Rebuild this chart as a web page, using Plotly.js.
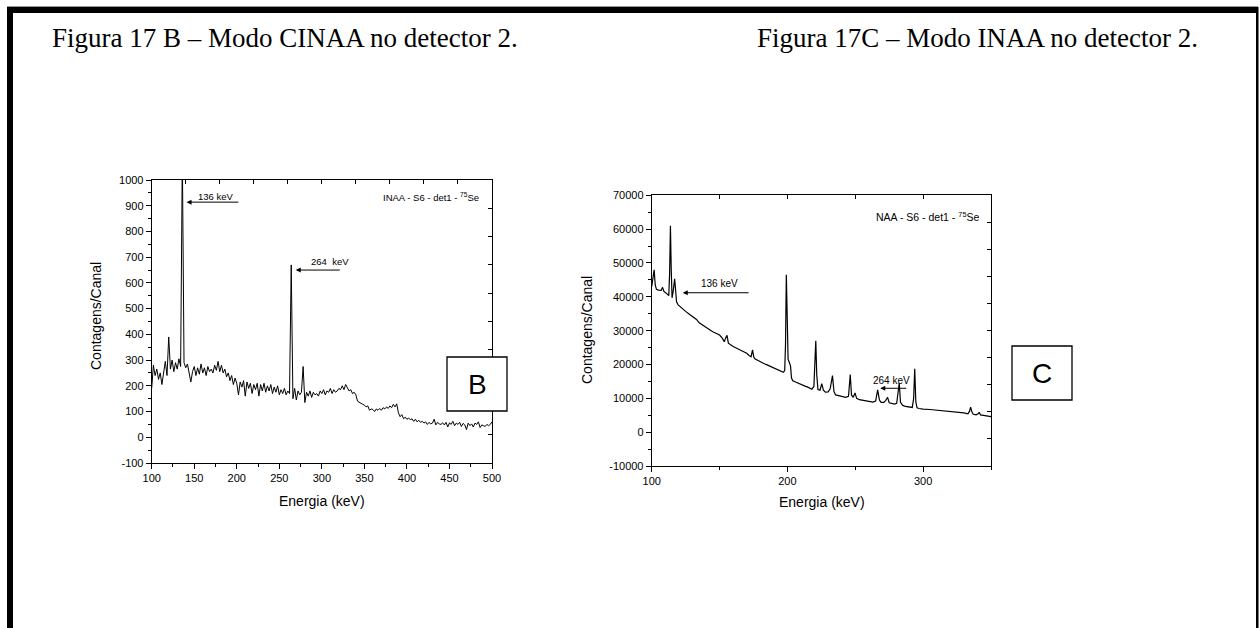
<!DOCTYPE html>
<html>
<head>
<meta charset="utf-8">
<script src="https://cdn.plot.ly/plotly-3.0.1.min.js"></script>
<style>html,body{margin:0;padding:0;background:#fff;}#chart{width:1260px;height:628px;}</style>
</head>
<body>
<div id="chart"></div>
<script>
// ---------- Panel B data (CINAA, 100-500 keV, 2 keV channels) ----------
const startEnergyB = 100;
const stepEnergyB = 2;
const countsB = [
 190,280,240,265,225,250,205,255,295,240,
 390,265,300,255,290,265,305,275,1100,290,
 270,285,245,215,255,275,240,270,245,285,
 250,270,240,275,255,265,250,280,260,295,
 255,280,250,265,235,250,220,240,205,230,
 210,165,215,195,220,160,215,190,210,170,
 205,185,210,160,205,180,210,175,200,180,
 205,170,195,175,200,165,185,170,190,165,
 180,170,670,150,190,145,180,165,175,275,
 135,175,160,180,155,175,165,170,160,180,
 170,185,165,180,175,190,170,185,175,180,
 190,185,200,185,205,190,180,185,170,175,
 165,140,135,130,128,125,118,122,105,110,
 108,100,110,105,112,105,115,110,118,112,
 122,115,128,118,130,95,80,88,72,78,
 70,75,68,72,62,70,60,66,58,62,
 55,60,50,58,52,55,70,48,58,52,
 50,56,48,58,40,56,50,62,45,55,
 50,58,42,54,48,30,55,45,52,40,
 55,50,60,38,48,45,42,50,45,50,
 60
];

// ---------- Panel C data (INAA, 100-350 keV) ----------
const energyC = [
 100,101,101.8,102.6,103.5,105,107,108,109,110,111.5,112.6,113.2,113.8,114.4,115,115.8,116.9,117.6,118.3,
 119.5,122,125,128,130,133,135,138,140,143,145,148,150,152,153.5,154.3,155.5,156.5,158,160,
 163,165,168,170,172,173.2,174.3,175.2,176,178,180,183,185,188,190,193,195,197,198,198.6,
 199.2,199.8,200.5,201.5,202.3,203,204,206,210,213,215,218,219.5,220.3,220.9,221.6,222.5,224,225.3,226.5,
 228,230,231.5,233.2,234.3,235.5,238,240,243,245,246.3,247.2,248.5,249.8,251,253,255,258,260,263,
 265,266.5,267.8,269,271,272.5,273.8,275,277,279,280.5,281.5,282.4,283.3,285,287,290,292,293,293.8,
 294.6,295.5,297,300,305,310,315,320,325,330,333,334.2,335,335.9,337,339,340.5,341.3,342.3,345,
 348,350
];
const countsC = [
 43000,46000,48000,43500,42200,42000,41900,42800,41600,41300,40700,40400,47000,61000,48000,39700,41500,45300,42000,38500,
 37600,36600,35700,34800,34300,33300,32300,31600,31000,30200,29700,29100,28700,27800,26700,27700,28600,26300,25800,25300,
 24700,24300,23600,23300,22600,22300,24300,22200,21700,21200,20700,20200,19900,19400,19100,18600,18200,17700,18200,26000,
 46500,30000,21500,20500,19500,16000,15200,14800,14000,13600,13300,12700,13500,19000,27000,17000,12600,12400,14300,12400,
 11800,11900,12800,16700,12000,11000,10700,10500,10300,10600,17000,11000,10300,11600,10000,9600,9400,9200,9100,8900,
 9200,12500,9500,8800,8800,9400,10300,8700,8500,8300,8500,11000,14500,8800,7900,7600,7400,7300,10000,18700,
 9000,7200,7000,6800,6700,6500,6400,6200,6000,5700,5400,6200,7400,6000,5300,5100,5400,5900,5100,4900,
 4700,4600
];

// ---------- Tick labels ----------
const tickValsBx = [100,150,200,250,300,350,400,450,500];
const tickTextBx = ['100','150','200','250','300','350','400','450','500'];
const tickValsBy = [-100,0,100,200,300,400,500,600,700,800,900,1000];
const tickTextBy = ['-100','0','100','200','300','400','500','600','700','800','900','1000'];
const tickValsCx = [100,200,300];
const tickTextCx = ['100','200','300'];
const tickValsCy = [-10000,0,10000,20000,30000,40000,50000,60000,70000];
const tickTextCy = ['-10000','0','10000','20000','30000','40000','50000','60000','70000'];

// ---------- Texts ----------
const titleB = 'Figura 17 B \u2013 Modo CINAA no detector 2.';
const titleC = 'Figura 17C \u2013 Modo INAA no detector 2.';
const yTitle = 'Contagens/Canal';
const xTitle = 'Energia (keV)';
const labelB = 'INAA - S6 - det1 - <sup>75</sup>Se';
const labelC = 'NAA - S6 - det1 - <sup>75</sup>Se';

// ---------- layout helpers (pixel -> paper) ----------
const W = 1260, H = 628;
const fx = p => p / W;
const fy = p => 1 - p / H;

const sans = 'Arial, "Liberation Sans", sans-serif';
const serif = '"Times New Roman", "Liberation Serif", serif';

const baseAxis = {
  showline: true, mirror: true, linecolor: 'black', linewidth: 1,
  showgrid: false, zeroline: false, ticks: 'outside', ticklen: 5, tickwidth: 1,
  tickcolor: 'black', tickfont: {family: sans, size: 11, color: 'black'},
  tickmode: 'array', fixedrange: true
};
const overAxis = {
  showline: false, showgrid: false, zeroline: false, ticks: 'inside', ticklen: 4,
  tickwidth: 1, tickcolor: 'black', showticklabels: false, tickmode: 'linear', fixedrange: true
};

const traces = [
  {x0: startEnergyB, dx: stepEnergyB, y: countsB, type: 'scatter', mode: 'lines',
   line: {color: 'black', width: 1}, xaxis: 'x', yaxis: 'y', hoverinfo: 'skip'},
  {x: energyC, y: countsC, type: 'scatter', mode: 'lines',
   line: {color: 'black', width: 1.2}, xaxis: 'x2', yaxis: 'y2', hoverinfo: 'skip'},
  {x0: startEnergyB, dx: stepEnergyB, y: countsB, type: 'scatter', mode: 'lines',
   opacity: 0, line: {width: 0}, xaxis: 'x3', yaxis: 'y3', hoverinfo: 'skip'},
  {x: energyC, y: countsC, type: 'scatter', mode: 'lines',
   opacity: 0, line: {width: 0}, xaxis: 'x4', yaxis: 'y4', hoverinfo: 'skip'}
];

function arrow(xr, yr, x, y, ax) {
  return {xref: xr, yref: yr, axref: xr, ayref: yr, x: x, y: y, ax: ax, ay: y,
    text: '', showarrow: true, arrowhead: 2, arrowsize: 1, arrowwidth: 1,
    arrowcolor: 'black', standoff: 0, startstandoff: 0};
}
function txt(xr, yr, x, y, t, size, xanchor) {
  return {xref: xr, yref: yr, x: x, y: y, text: t, showarrow: false,
    xanchor: xanchor || 'center', yanchor: 'middle',
    font: {family: sans, size: size, color: 'black'}};
}

const layout = {
  width: W, height: H,
  margin: {l: 0, r: 0, t: 0, b: 0, pad: 0},
  paper_bgcolor: 'white', plot_bgcolor: 'white',
  showlegend: false,
  xaxis: Object.assign({}, baseAxis, {domain: [fx(151.7), fx(492)], anchor: 'y', range: [100, 500],
    tickvals: tickValsBx, ticktext: tickTextBx,
    minor: {ticks: 'outside', ticklen: 3, tickmode: 'linear', tick0: 100, dtick: 25, tickcolor: 'black', showgrid: false}}),
  yaxis: Object.assign({}, baseAxis, {domain: [fy(463), fy(180)], anchor: 'x', range: [-100, 1000],
    tickvals: tickValsBy, ticktext: tickTextBy,
    minor: {ticks: 'outside', ticklen: 3, tickmode: 'linear', tick0: -100, dtick: 50, tickcolor: 'black', showgrid: false}}),
  xaxis2: Object.assign({}, baseAxis, {domain: [fx(651.7), fx(991)], anchor: 'y2', range: [100, 350],
    tickvals: tickValsCx, ticktext: tickTextCx,
    minor: {ticks: 'outside', ticklen: 3, tickmode: 'linear', tick0: 100, dtick: 50, tickcolor: 'black', showgrid: false}}),
  yaxis2: Object.assign({}, baseAxis, {domain: [fy(466), fy(195.3)], anchor: 'x2', range: [-10000, 70000],
    tickvals: tickValsCy, ticktext: tickTextCy,
    minor: {ticks: 'outside', ticklen: 3, tickmode: 'linear', tick0: -10000, dtick: 5000, tickcolor: 'black', showgrid: false}}),
  xaxis3: Object.assign({}, overAxis, {overlaying: 'x', side: 'top', anchor: 'y3', range: [100, 500], tick0: 100, dtick: 40}),
  yaxis3: Object.assign({}, overAxis, {overlaying: 'y', side: 'right', anchor: 'x3', range: [-100, 1000], tick0: 10, dtick: 110}),
  xaxis4: Object.assign({}, overAxis, {overlaying: 'x2', side: 'top', anchor: 'y4', range: [100, 350], tick0: 100, dtick: 50}),
  yaxis4: Object.assign({}, overAxis, {overlaying: 'y2', side: 'right', anchor: 'x4', range: [-10000, 70000], tick0: -2000, dtick: 8000}),
  shapes: [
    // page frame
    {type: 'line', xref: 'paper', yref: 'paper', x0: fx(7), x1: fx(1258), y0: fy(6.5), y1: fy(6.5), line: {color: '#9a9a9a', width: 1}, layer: 'above'},
    {type: 'rect', xref: 'paper', yref: 'paper', x0: fx(7), x1: fx(1258), y0: fy(13), y1: fy(7), fillcolor: 'black', line: {width: 0}, layer: 'above'},
    {type: 'rect', xref: 'paper', yref: 'paper', x0: fx(7), x1: fx(13), y0: 0, y1: fy(7), fillcolor: 'black', line: {width: 0}, layer: 'above'},
    {type: 'rect', xref: 'paper', yref: 'paper', x0: fx(1256), x1: fx(1258.5), y0: 0, y1: fy(7), fillcolor: 'black', line: {width: 0}, layer: 'above'},
    // letter boxes
    {type: 'rect', xref: 'paper', yref: 'paper', x0: fx(447), x1: fx(507), y0: fy(411), y1: fy(357), fillcolor: 'white', line: {color: 'black', width: 1.3}, layer: 'above'},
    {type: 'rect', xref: 'paper', yref: 'paper', x0: fx(1012), x1: fx(1072), y0: fy(400), y1: fy(346), fillcolor: 'white', line: {color: 'black', width: 1.3}, layer: 'above'}
  ],
  annotations: [
    {xref: 'paper', yref: 'paper', x: fx(50), y: fy(38), xanchor: 'left', yanchor: 'middle', text: titleB, showarrow: false,
     font: {family: serif, size: 27, color: 'black'}},
    {xref: 'paper', yref: 'paper', x: fx(755), y: fy(38), xanchor: 'left', yanchor: 'middle', text: titleC, showarrow: false,
     font: {family: serif, size: 27, color: 'black'}},
    // axis titles
    {xref: 'paper', yref: 'paper', x: fx(96), y: fy(316), text: yTitle, textangle: -90, showarrow: false,
     xanchor: 'center', yanchor: 'middle', font: {family: sans, size: 14, color: 'black'}},
    {xref: 'paper', yref: 'paper', x: fx(322), y: fy(501), text: xTitle, showarrow: false,
     xanchor: 'center', yanchor: 'middle', font: {family: sans, size: 14, color: 'black'}},
    {xref: 'paper', yref: 'paper', x: fx(587), y: fy(330), text: yTitle, textangle: -90, showarrow: false,
     xanchor: 'center', yanchor: 'middle', font: {family: sans, size: 14, color: 'black'}},
    {xref: 'paper', yref: 'paper', x: fx(822), y: fy(502), text: xTitle, showarrow: false,
     xanchor: 'center', yanchor: 'middle', font: {family: sans, size: 14, color: 'black'}},
    // panel B annotations
    txt('x', 'y', 175, 936, '136 keV', 9.5),
    arrow('x', 'y', 141, 914, 203.6),
    txt('x', 'y', 310, 683, '264  keV', 9.5),
    arrow('x', 'y', 269.3, 650, 322.9),
    txt('x', 'y', 487, 932, labelB, 9.5, 'right'),
    // panel C annotations
    txt('x2', 'y2', 149.6, 43800, '136 keV', 10),
    arrow('x2', 'y2', 122.9, 41200, 172.5),
    txt('x2', 'y2', 276.6, 15300, '264 keV', 10),
    arrow('x2', 'y2', 268.4, 12970, 288.6),
    txt('x2', 'y2', 342.8, 63800, labelC, 10.5, 'right'),
    // letter boxes
    {xref: 'paper', yref: 'paper', x: fx(477), y: fy(384), text: 'B', showarrow: false, xanchor: 'center', yanchor: 'middle',
     font: {family: sans, size: 28, color: 'black'}},
    {xref: 'paper', yref: 'paper', x: fx(1042), y: fy(373), text: 'C', showarrow: false, xanchor: 'center', yanchor: 'middle',
     font: {family: sans, size: 28, color: 'black'}}
  ]
};

Plotly.newPlot('chart', traces, layout, {staticPlot: true, displayModeBar: false});
</script>
</body>
</html>
